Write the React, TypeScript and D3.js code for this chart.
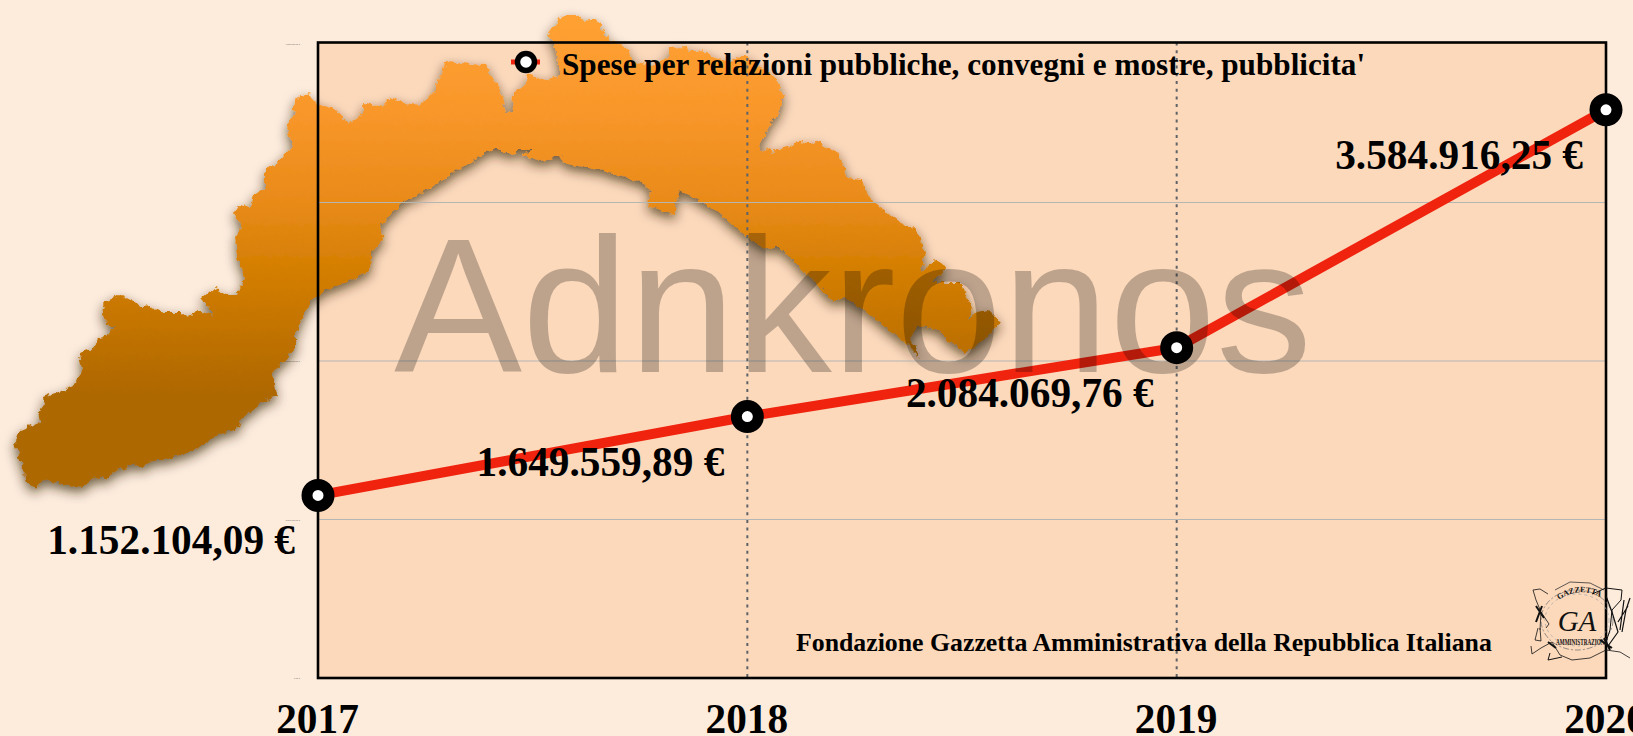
import React from "react";
import * as d3 from "d3";

const years = ["2017", "2018", "2019", "2020"];
const spese = [1152104.09, 1649559.89, 2084069.76, 3584916.25];
const speseLabels = ["1.152.104,09 €", "1.649.559,89 €", "2.084.069,76 €", "3.584.916,25 €"];
const yTicks = [0, 1000000, 2000000, 3000000, 4000000];
const yTickLabels = ["0,00 €", "1.000.000,00 €", "2.000.000,00 €", "3.000.000,00 €", "4.000.000,00 €"];
const legendLabel = "Spese per relazioni pubbliche, convegni e mostre, pubblicita'";
const footer = "Fondazione Gazzetta Amministrativa della Repubblica Italiana";
const watermark = "Adnkronos";

// Decorative silhouette of Liguria behind the plot (page coordinates)
const liguria: [number, number][] = [
  [27,483],[15,443],[20,430],[40,422],[38,413],[44,405],[43,397],[55,392],[59,393],[77,382],[82,370],[79,354],[95,347],[98,338],[107,336],[115,326],[107,325],[102,313],[105,302],[120,295],[143,307],[150,306],[165,313],[182,313],[187,317],[198,311],[213,315],[210,308],[202,299],[215,288],[228,295],[237,295],[245,277],[237,257],[235,237],[242,227],[234,213],[241,204],[250,208],[253,195],[265,188],[265,170],[278,162],[293,147],[286,127],[293,117],[295,100],[309,93],[317,105],[332,107],[349,123],[360,117],[365,103],[383,107],[390,97],[403,103],[421,105],[436,90],[439,78],[446,62],[485,65],[500,90],[506,113],[512,112],[513,93],[523,87],[528,75],[546,80],[561,75],[554,43],[547,35],[562,15],[578,15],[583,21],[597,19],[608,40],[628,48],[632,62],[650,66],[668,58],[668,48],[687,47],[688,52],[702,50],[713,57],[730,62],[745,55],[758,65],[777,80],[783,95],[778,117],[772,120],[758,147],[760,152],[770,148],[773,154],[778,148],[802,142],[808,143],[819,142],[840,155],[848,178],[862,180],[868,197],[882,208],[900,222],[917,230],[925,253],[920,273],[935,260],[947,267],[933,283],[962,283],[965,293],[972,308],[968,320],[977,312],[988,310],[1000,322],[985,340],[965,353],[937,330],[918,325],[910,337],[920,358],[902,340],[867,312],[843,297],[833,302],[820,287],[800,267],[780,248],[763,247],[748,237],[738,230],[713,208],[680,190],[673,215],[648,205],[650,190],[640,182],[613,173],[563,163],[560,155],[543,162],[522,155],[533,150],[517,150],[513,155],[495,148],[474,160],[452,173],[423,193],[400,203],[380,227],[383,240],[371,253],[370,272],[327,290],[311,300],[296,333],[296,347],[273,373],[277,395],[262,402],[240,420],[238,428],[218,435],[195,450],[170,458],[147,462],[143,468],[133,464],[112,473],[107,479],[95,477],[82,488],[43,480],[37,487],[27,483],
];

const W = 1633, H = 736;
const x = d3.scalePoint<string>().domain(years).range([318, 1606]);
const y = d3.scaleLinear().domain([0, 4000000]).range([678, 44]);
const serif = "'Liberation Serif', serif";

export default function App() {
  const pts = spese.map((v, i) => [x(years[i])!, y(v)] as [number, number]);
  const line = d3.line()(pts)!;
  const map = d3.line()(liguria)! + "Z";
  return (
    <svg width={W} height={H} viewBox={`0 0 ${W} ${H}`} style={{ position: "absolute", left: 0, top: 0, display: "block" }}>
      <defs>
        <linearGradient id="mapFill" gradientUnits="userSpaceOnUse" x1="0" y1="15" x2="0" y2="490">
          <stop offset="0" stopColor="#FFA133" />
          <stop offset="0.2" stopColor="#F9972B" />
          <stop offset="0.4" stopColor="#E88A18" />
          <stop offset="0.55" stopColor="#D27D00" />
          <stop offset="0.8" stopColor="#AE6700" />
          <stop offset="1" stopColor="#AE6700" />
        </linearGradient>
        <filter id="mapShadow" x="-5%" y="-10%" width="110%" height="125%">
          <feTurbulence type="fractalNoise" baseFrequency="0.18" numOctaves={2} seed={4} result="n" />
          <feDisplacementMap in="SourceGraphic" in2="n" scale={7} xChannelSelector="R" yChannelSelector="G" result="d" />
          <feGaussianBlur in="d" stdDeviation={6} result="b" />
          <feOffset in="b" dx={0} dy={5} result="o" />
          <feFlood floodColor="#2e2008" floodOpacity={0.7} />
          <feComposite in2="o" operator="in" result="s" />
          <feMerge>
            <feMergeNode in="s" />
            <feMergeNode in="d" />
          </feMerge>
        </filter>
      </defs>
      <rect width={W} height={H} fill="#FDECDC" />
      <rect x={318} y={42.5} width={1288} height={635.5} fill="#FCD9BB" />
      {yTicks.map((t, i) => (
        <text key={t} x={300} y={y(t) + 1} textAnchor="end" fontFamily="'Liberation Sans', sans-serif" fontSize={2.2} fill="#555">{yTickLabels[i]}</text>
      ))}
      <path d={map} fill="url(#mapFill)" filter="url(#mapShadow)" />
      {yTicks.slice(1, 4).map((t) => (
        <line key={t} x1={318} x2={1606} y1={y(t)} y2={y(t)} stroke="#B4B6B4" strokeWidth={1.2} />
      ))}
      {years.slice(1, 3).map((c) => (
        <line key={c} x1={x(c)} x2={x(c)} y1={42.5} y2={678} stroke="#5f6368" strokeWidth={2} strokeDasharray="3 4.7" />
      ))}
      <path d={line} fill="none" stroke="#F0230E" strokeWidth={10} />
      <text x={394} y={372} fontFamily="'Liberation Sans', sans-serif" fontSize={192} fill="#000" fillOpacity={0.25}>{watermark}</text>
      <rect x={318} y={42.5} width={1288} height={635.5} fill="none" stroke="#000" strokeWidth={2.6} />
      {pts.map(([px, py], i) => (
        <circle key={years[i]} cx={px} cy={py} r={11} fill="#fff" stroke="#000" strokeWidth={11} />
      ))}
      {pts.map(([px, py], i) => (
        <text key={years[i]} x={px - 23} y={py + 59} textAnchor="end" fontFamily={serif} fontWeight="bold" fontSize={41.3} fill="#000">{speseLabels[i]}</text>
      ))}
      {years.map((c) => (
        <text key={c} x={x(c)! - 0.5} y={733} textAnchor="middle" fontFamily={serif} fontWeight="bold" fontSize={41.3} fill="#000">{c}</text>
      ))}
      <line x1={511} x2={540} y1={62} y2={62} stroke="#F0230E" strokeWidth={5} />
      <circle cx={526} cy={62} r={8.5} fill="#fff" stroke="#000" strokeWidth={5.5} />
      <text x={562} y={75} fontFamily={serif} fontWeight="bold" fontSize={31.2} fill="#000">{legendLabel}</text>
      <text x={796} y={651} fontFamily={serif} fontWeight="bold" fontSize={25.8} fill="#000">{footer}</text>
      <g fill="none" stroke="#111" strokeWidth={0.8}>
        <ellipse cx={1577} cy={620} rx={36} ry={30} stroke="#777" strokeDasharray="6 2 2 2" />
        <ellipse cx={1577} cy={620} rx={32} ry={26} stroke="#aaa" strokeDasharray="3 3" />
        <path d="M1533 590 L1540 589 L1548 594 M1533 590 L1536 600 L1541 612 L1540 630 M1541 612 L1549 624 L1546 628 M1538 628 L1535 640 L1541 641 L1540 628" />
        <path d="M1531 646 L1532 654 L1541 648 L1552 642 L1560 655 L1572 660 L1590 658 L1606 650 L1620 652 L1630 658" />
        <path d="M1550 653 L1548 660 L1562 657 M1592 594 L1606 588 L1622 590 L1621 600 L1612 610 L1610 630 L1606 642" strokeWidth={1} />
        <path d="M1606 596 L1612 612 L1618 632 L1608 646 M1622 632 L1626 610 L1630 598 M1618 622 L1628 606 M1620 630 L1624 600" strokeWidth={1.2} />
        <path d="M1555 590 L1570 582 L1590 583 L1604 590" stroke="#333" />
        <path d="M1548 642 L1556 648 M1600 640 L1612 648 M1604 638 L1610 650 M1536 606 L1544 618 M1542 606 L1536 622" strokeWidth={2} />
      </g>
      <path id="logoTop" d="M1559 600 Q1578 586 1600 597" fill="none" />
      <text fontFamily={serif} fontWeight="bold" fontSize={8} fill="#111"><textPath href="#logoTop">GAZZETTA</textPath></text>
      <text x={1556} y={645} fontFamily={serif} fontWeight="bold" fontSize={7.6} fill="#111" textLength={52} lengthAdjust="spacingAndGlyphs">AMMINISTRAZIONE</text>
      <text x={1577} y={631} textAnchor="middle" fontFamily={serif} fontStyle="italic" fontSize={29} fill="#111">GA</text>
    </svg>
  );
}
